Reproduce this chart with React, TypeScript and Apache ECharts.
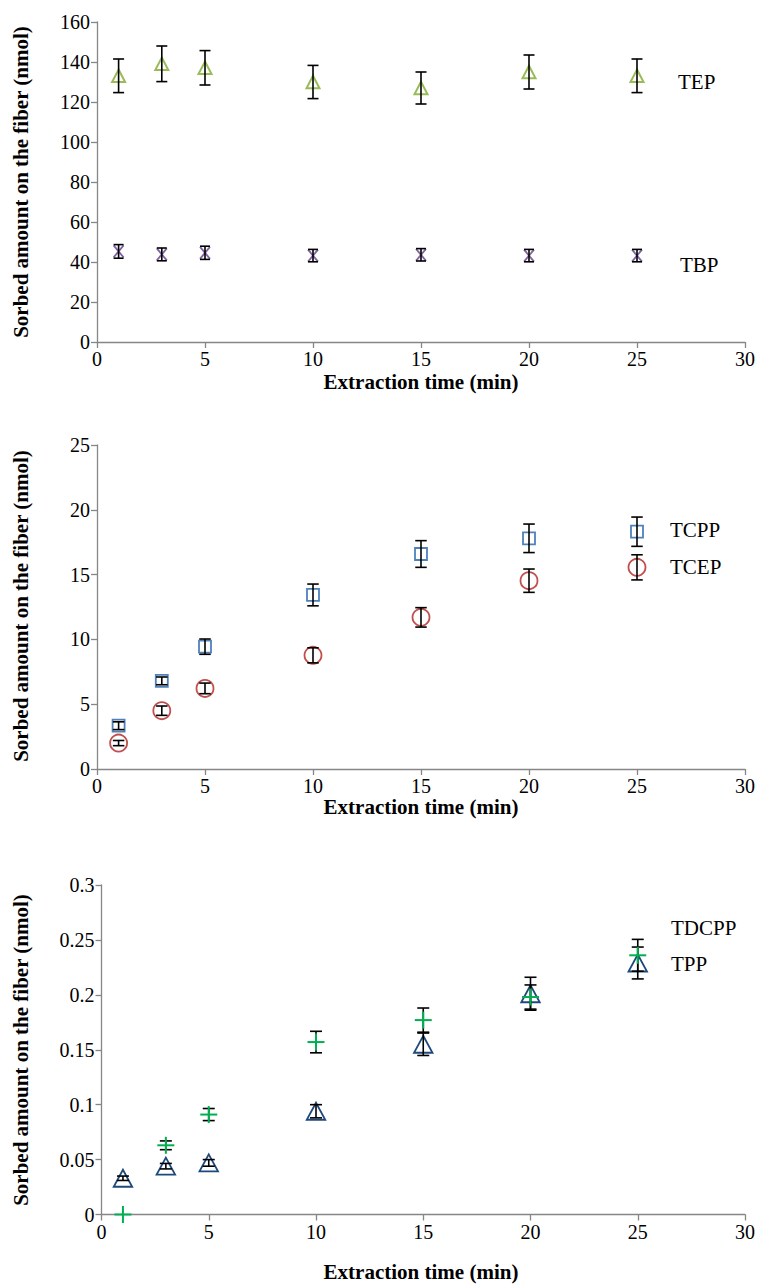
import React, { useEffect, useRef } from "react";
import * as echarts from "echarts";

const times = [1, 3, 5, 10, 15, 20, 25];
const xTicks = { min: 0, max: 30, interval: 5 };

const tep = [133.1, 139.1, 137.1, 130.0, 127.0, 135.0, 133.1];
const tepErr = [8.4, 8.9, 8.6, 8.3, 8.0, 8.5, 8.4];
const tbp = [45.3, 43.8, 44.6, 43.2, 43.6, 43.2, 43.2];
const tbpErr = [3.4, 3.2, 3.3, 3.1, 3.1, 3.1, 3.1];

const tcpp = [3.34, 6.8, 9.44, 13.43, 16.59, 17.8, 18.31];
const tcppErr = [0.3, 0.3, 0.59, 0.84, 1.03, 1.1, 1.13];
const tcep = [2.0, 4.5, 6.22, 8.77, 11.7, 14.53, 15.56];
const tcepErr = [0.2, 0.36, 0.41, 0.58, 0.75, 0.9, 0.97];

const tpp = [0.033, 0.044, 0.047, 0.094, 0.155, 0.201, 0.229];
const tppErr = [0.002, 0.0025, 0.003, 0.006, 0.0102, 0.015, 0.0145];
const tdcpp = [0.0, 0.063, 0.091, 0.157, 0.177, 0.198, 0.236];
const tdcppErr = [0, 0.004, 0.0055, 0.0098, 0.011, 0.011, 0.0145];

const yTitle = "Sorbed amount on the fiber (nmol)";
const xTitle = "Extraction time (min)";

const SERIF = "Liberation Serif";
const AXIS_COLOR = "#868686";

type Marker = {
  kind: "triangle" | "square" | "circle" | "x" | "plus";
  color: string;
  w: number;
  h: number;
  lw: number;
  cap: number;
  errOnTop: boolean;
};

function markerShapes(m: Marker, cx: number, cy: number) {
  const style = { fill: "none", stroke: m.color, lineWidth: m.lw };
  const hw = m.w / 2;
  const hh = m.h / 2;
  switch (m.kind) {
    case "triangle":
      return [
        {
          type: "polygon",
          shape: { points: [[cx, cy - hh], [cx + hw, cy + hh], [cx - hw, cy + hh]] },
          style,
        },
      ];
    case "square":
      return [{ type: "rect", shape: { x: cx - hw, y: cy - hh, width: m.w, height: m.h }, style }];
    case "circle":
      return [{ type: "circle", shape: { cx, cy, r: hw }, style }];
    case "x":
      return [
        { type: "line", shape: { x1: cx - hw, y1: cy - hh, x2: cx + hw, y2: cy + hh }, style },
        { type: "line", shape: { x1: cx + hw, y1: cy - hh, x2: cx - hw, y2: cy + hh }, style },
      ];
    case "plus":
    default:
      return [
        { type: "line", shape: { x1: cx - hw, y1: cy, x2: cx + hw, y2: cy }, style },
        { type: "line", shape: { x1: cx, y1: cy - hh, x2: cx, y2: cy + hh }, style },
      ];
  }
}

function makeSeries(name: string, idx: number, values: number[], errs: number[], m: Marker) {
  return {
    name,
    type: "custom",
    xAxisIndex: idx,
    yAxisIndex: idx,
    data: times.map((t, i) => [t, values[i], errs[i]]),
    clip: false,
    renderItem: (params: any, api: any) => {
      const x = api.value(0);
      const y = api.value(1);
      const e = api.value(2);
      const c = api.coord([x, y]);
      const children: any[] = [];
      const errStyle = { stroke: "#000", lineWidth: 1.6 };
      const err: any[] = [];
      if (e > 0) {
        const t = api.coord([x, y + e]);
        const b = api.coord([x, y - e]);
        const hc = m.cap / 2;
        err.push({ type: "line", shape: { x1: c[0], y1: t[1], x2: c[0], y2: b[1] }, style: errStyle });
        err.push({ type: "line", shape: { x1: c[0] - hc, y1: t[1], x2: c[0] + hc, y2: t[1] }, style: errStyle });
        err.push({ type: "line", shape: { x1: c[0] - hc, y1: b[1], x2: c[0] + hc, y2: b[1] }, style: errStyle });
      }
      const mk = markerShapes(m, c[0], c[1]);
      if (m.errOnTop) {
        children.push(...mk, ...err);
      } else {
        children.push(...err, ...mk);
      }
      return { type: "group", children };
    },
  };
}

const grids = [
  { left: 97, top: 22, width: 648, height: 320 },
  { left: 97, top: 445, width: 648, height: 324 },
  { left: 101.5, top: 885, width: 643.5, height: 329.5 },
];

const yRanges = [
  { min: 0, max: 160, interval: 20 },
  { min: 0, max: 25, interval: 5 },
  { min: 0, max: 0.3, interval: 0.05 },
];

function axisCommon() {
  return {
    axisLine: { show: true, onZero: false, lineStyle: { color: AXIS_COLOR, width: 1.3 } },
    axisTick: { show: true, length: 6, lineStyle: { color: AXIS_COLOR, width: 1.3 } },
    axisLabel: { fontFamily: SERIF, fontSize: 20, color: "#000", margin: 7 },
    splitLine: { show: false },
  };
}

export default function App() {
  const ref = useRef<HTMLDivElement>(null);
  useEffect(() => {
    document.body.style.margin = "0";
    if (!ref.current) return;
    const chart = echarts.init(ref.current, undefined, { renderer: "svg" });

    const titleStyle = {
      font: "bold 21px " + SERIF,
      fill: "#000",
      align: "center",
      verticalAlign: "middle",
    };
    const labelStyle = {
      font: "21px " + SERIF,
      fill: "#000",
      align: "left",
      verticalAlign: "middle",
    };
    const graphics: any[] = [];
    const yTitleY = [182, 606, 1050];
    const xTitleY = [382, 807, 1272];
    grids.forEach((g, i) => {
      graphics.push({
        type: "text",
        x: 21,
        y: yTitleY[i],
        rotation: Math.PI / 2,
        style: { ...titleStyle, text: yTitle },
      });
      graphics.push({
        type: "text",
        x: 421,
        y: xTitleY[i],
        style: { ...titleStyle, text: xTitle },
      });
    });
    const seriesLabels = [
      ["TEP", 678, 82],
      ["TBP", 680, 265],
      ["TCPP", 670, 530],
      ["TCEP", 670, 567],
      ["TDCPP", 671, 928],
      ["TPP", 671, 964],
    ];
    seriesLabels.forEach(([t, x, y]) => {
      graphics.push({ type: "text", x, y, style: { ...labelStyle, text: t } });
    });

    chart.setOption({
      animation: false,
      backgroundColor: "#fff",
      grid: grids.map((g) => ({ ...g, containLabel: false })),
      xAxis: grids.map((_, i) => ({
        gridIndex: i,
        type: "value",
        ...xTicks,
        ...axisCommon(),
      })),
      yAxis: grids.map((_, i) => ({
        gridIndex: i,
        type: "value",
        ...yRanges[i],
        ...axisCommon(),
      })),
      series: [
        makeSeries("TEP", 0, tep, tepErr, { kind: "triangle", color: "#9BBB59", w: 13, h: 12.5, lw: 2, cap: 11, errOnTop: true }),
        makeSeries("TBP", 0, tbp, tbpErr, { kind: "x", color: "#8064A2", w: 10, h: 12, lw: 1.8, cap: 10, errOnTop: true }),
        makeSeries("TCPP", 1, tcpp, tcppErr, { kind: "square", color: "#4F81BD", w: 12, h: 12, lw: 1.8, cap: 11.5, errOnTop: true }),
        makeSeries("TCEP", 1, tcep, tcepErr, { kind: "circle", color: "#C0504D", w: 17, h: 17, lw: 1.8, cap: 11.5, errOnTop: true }),
        makeSeries("TPP", 2, tpp, tppErr, { kind: "triangle", color: "#1F497D", w: 18.5, h: 17, lw: 1.8, cap: 12, errOnTop: true }),
        makeSeries("TDCPP", 2, tdcpp, tdcppErr, { kind: "plus", color: "#00B050", w: 17, h: 17, lw: 2, cap: 12, errOnTop: false }),
      ],
      graphic: graphics,
    });
    return () => chart.dispose();
  }, []);
  return (
    <div
      ref={ref}
      style={{ width: 760, height: 1285, position: "absolute", left: 0, top: 0, background: "#fff" }}
    />
  );
}
